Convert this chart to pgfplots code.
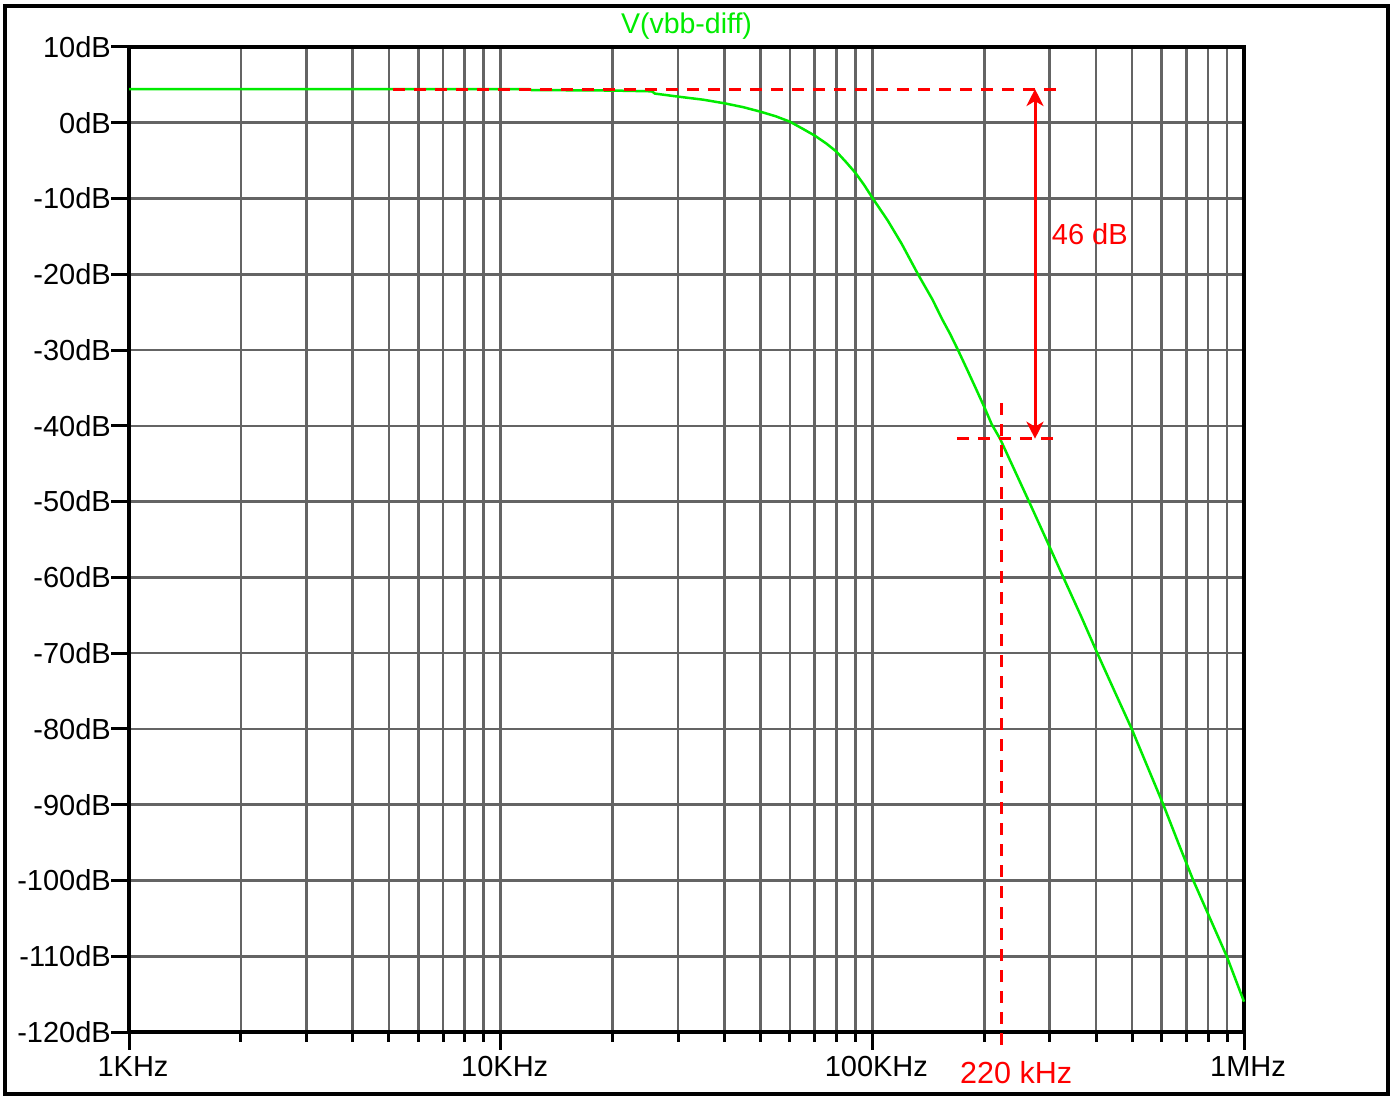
\documentclass[border=0pt]{standalone}
\usepackage{pgfplots}
\pgfplotsset{compat=1.18}
\usepackage{fontspec}
\setmainfont{Liberation Sans}
\usetikzlibrary{arrows.meta}

\definecolor{trace}{RGB}{0,235,0}
\definecolor{gridgray}{RGB}{100,100,100}
\definecolor{anno}{RGB}{255,0,0}

\pgfplotstableread{
f       db
1000    4.45
5000    4.45
11900   4.45
12100   4.32
20000   4.25
25500   4.15
26000   3.85
30000   3.45
35000   3.05
40000   2.57
45000   2.05
50000   1.46
55000   0.85
60000   0.14
65000   -0.8
70000   -1.7
75000   -2.7
80000   -3.8
85000   -5.2
90000   -6.6
95000   -8.2
100000  -9.9
110000  -12.9
120000  -16.0
132700  -20.0
145000  -23.3
154000  -25.9
162000  -27.9
170000  -30.0
180000  -32.6
190000  -35.1
200000  -37.5
209500  -39.8
220600  -41.7
240000  -45.6
264000  -50.0
295000  -55.2
326500  -60.0
365000  -65.2
402900  -70.0
450000  -75.2
498700  -80.0
550000  -85.0
606600  -90.0
665000  -95.0
730400  -100.0
810000  -105.0
898300  -110.0
1000000 -116.0
}\vbbdiff

\begin{document}
\begin{tikzpicture}
\useasboundingbox (-129bp,-67bp) rectangle (1265bp,1032bp);
\draw[line width=4bp] (-124bp,-62bp) rectangle (1259bp,1026bp);
\begin{axis}[
    at={(0,0)}, anchor=south west,
    scale only axis, width=1115bp, height=985bp,
    xmode=log, xmin=1000, xmax=1e6,
    ymin=-120, ymax=10,
    clip=false, no markers,
    xtick={1e3,1e4,1e5,1e6},
    xticklabels={1KHz,10KHz,100KHz,1MHz},
    minor xtick={2000,3000,4000,5000,6000,7000,8000,9000,
                 20000,30000,40000,50000,60000,70000,80000,90000,
                 200000,300000,400000,500000,600000,700000,800000,900000},
    ytick={-120,-110,...,10},
    yticklabels={-120dB,-110dB,-100dB,-90dB,-80dB,-70dB,-60dB,-50dB,-40dB,-30dB,-20dB,-10dB,0dB,10dB},
    grid=both,
    major grid style={gridgray, line width=2.6bp},
    minor grid style={gridgray, line width=2.6bp},
    axis line style={black, line width=3.5bp},
    tick style={black, line width=3bp},
    major tick length=18bp, minor tick length=10bp,
    tick align=outside,
    xtick pos=bottom, ytick pos=left,
    ticklabel style={font=\fontsize{29bp}{33bp}\selectfont, inner sep=0pt},
    xticklabel style={anchor=base, yshift=-27bp, xshift=4bp},
    yticklabel style={anchor=east, xshift=0bp},
]
\addplot[trace, line width=2.5bp] table[x=f, y=db] {\vbbdiff};

\addplot[anno, line width=3bp, dash pattern=on 12bp off 9bp] coordinates {(5130,4.45) (326000,4.45)};
\addplot[anno, line width=3bp, dash pattern=on 12bp off 9bp] coordinates {(168700,-41.7) (306000,-41.7)};
\addplot[anno, line width=3bp, dash pattern=on 12bp off 9bp] coordinates {(222800,-37.0) (222800,-121.7)};
\addplot[anno, line width=3bp, arrows={Stealth[length=17bp,width=17bp,inset=5bp]-Stealth[length=17bp,width=17bp,inset=5bp]}]
    coordinates {(273900,4.45) (273900,-41.7)};

\node[text=trace, anchor=base, inner sep=0pt, font=\fontsize{28.5bp}{32bp}\selectfont, yshift=13bp]
    at (rel axis cs:0.5,1) {V(vbb-diff)};
\node[text=anno, anchor=base west, inner sep=0pt, font=\fontsize{29bp}{33bp}\selectfont]
    at (axis cs:303800,-16.13) {46 dB};
\node[text=anno, anchor=base west, inner sep=0pt, font=\fontsize{30.5bp}{34bp}\selectfont]
    at (axis cs:172100,-126.86) {220 kHz};
\end{axis}
\end{tikzpicture}
\end{document}
